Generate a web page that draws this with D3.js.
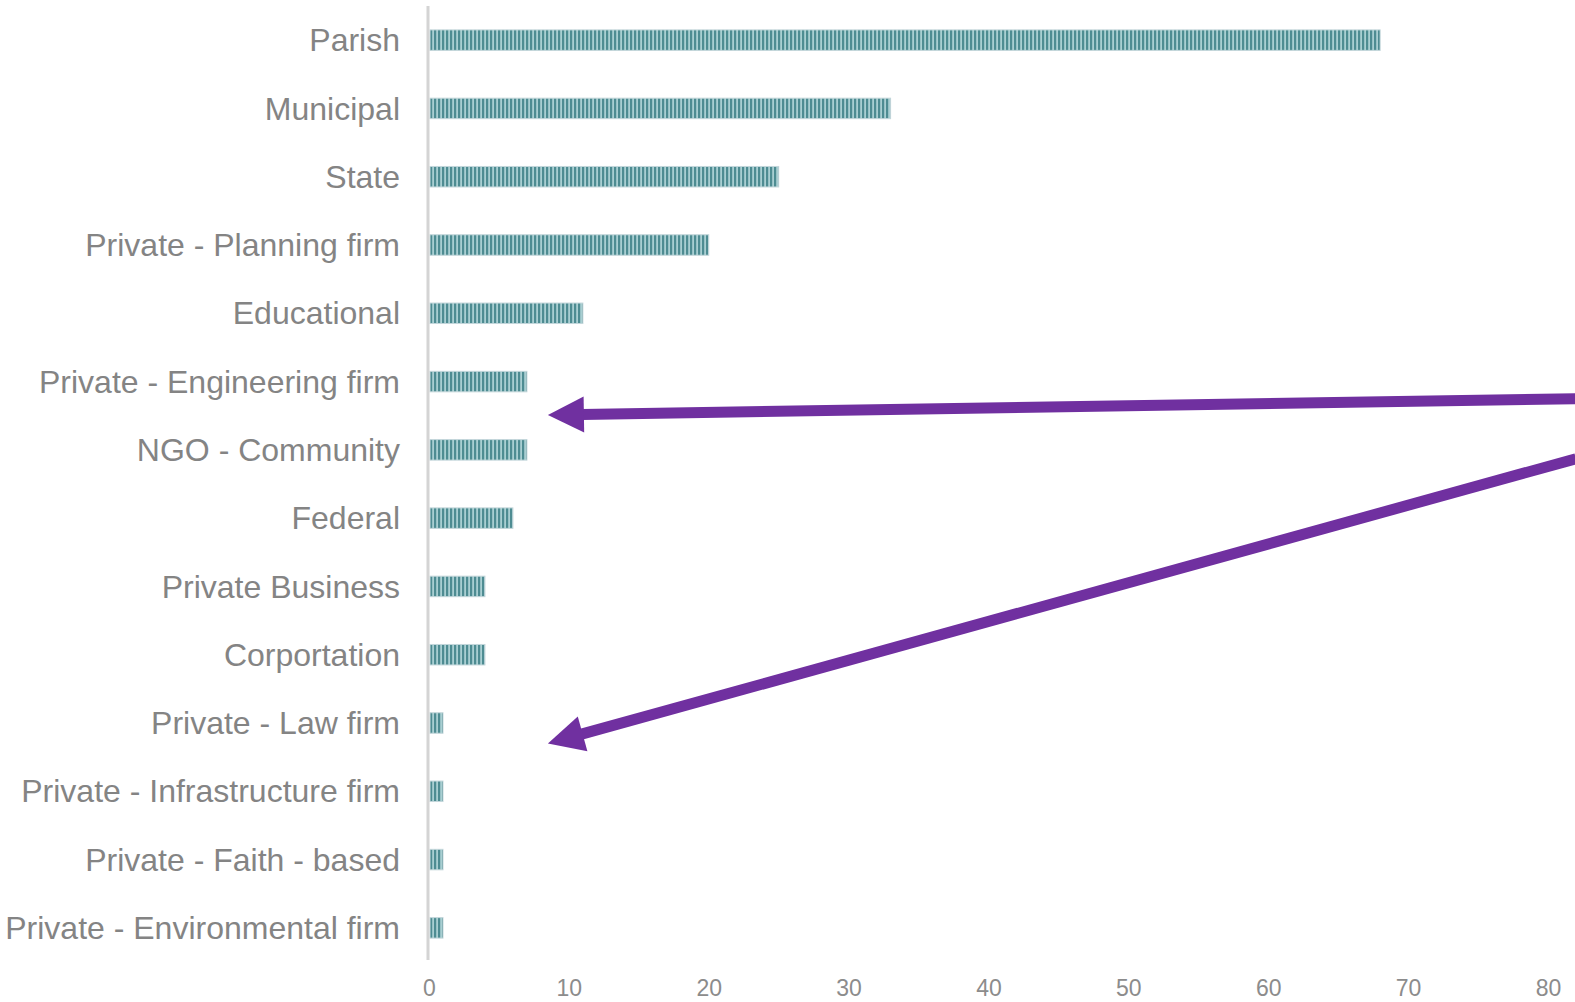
<!DOCTYPE html>
<html>
<head>
<meta charset="utf-8">
<script src="https://cdn.jsdelivr.net/npm/d3@7"></script>
<style>
  body { margin: 0; background: #fff; }
  svg { display: block; font-family: "Liberation Sans", Arial, sans-serif; }
</style>
</head>
<body>
<svg id="chart"></svg>
<script>
// data
const categories = [
  'Parish', 'Municipal', 'State', 'Private - Planning firm', 'Educational',
  'Private - Engineering firm', 'NGO - Community', 'Federal', 'Private Business',
  'Corportation', 'Private - Law firm', 'Private - Infrastructure firm',
  'Private - Faith - based', 'Private - Environmental firm'
];
const counts = [68, 33, 25, 20, 11, 7, 7, 6, 4, 4, 1, 1, 1, 1];
const xTicks = [0, 10, 20, 30, 40, 50, 60, 70, 80];

// arrows: [from value, from row, to value, to row] (row = category index, fractional)
const arrows = [
  [82, 5.25, 8.5, 5.49],
  [82, 6.13, 8.5, 10.3]
];

const W = 1575, H = 1002;
const margin = {top: 6, right: 27, bottom: 40, left: 429};

const svg = d3.select('#chart').attr('width', W).attr('height', H);

const x = d3.scaleLinear().domain([0, 80]).range([margin.left, W - margin.right]);
const y = d3.scaleBand().domain(categories).range([margin.top, H - margin.bottom]).paddingInner(0.7).paddingOuter(0.35);
const rowY = r => margin.top + y.step() * (r + 0.5);

// striped fill
const defs = svg.append('defs');
const pat = defs.append('pattern')
  .attr('id', 'stripes')
  .attr('patternUnits', 'userSpaceOnUse')
  .attr('x', margin.left + 1)
  .attr('width', 4).attr('height', 10);
pat.append('rect').attr('width', 4).attr('height', 10).attr('fill', '#a9cfd2');
pat.append('rect').attr('width', 2.2).attr('height', 10).attr('fill', '#4e8c92');

// bars
svg.append('g').selectAll('rect')
  .data(counts)
  .join('rect')
    .attr('x', x(0) + 1)
    .attr('y', (d, i) => y(categories[i]))
    .attr('width', d => x(d) - x(0) - 1)
    .attr('height', y.bandwidth())
    .attr('fill', 'url(#stripes)')
    .attr('stroke', '#c3d6da')
    .attr('stroke-width', 1);

// vertical axis line
svg.append('line')
  .attr('x1', x(0) - 1).attr('x2', x(0) - 1)
  .attr('y1', margin.top).attr('y2', H - margin.bottom - 2)
  .attr('stroke', '#d4d4d4').attr('stroke-width', 3);

// category labels
svg.append('g').selectAll('text')
  .data(categories)
  .join('text')
    .attr('x', 400)
    .attr('y', d => y(d) + y.bandwidth() / 2)
    .attr('dy', '0.35em')
    .attr('text-anchor', 'end')
    .attr('font-size', 32)
    .attr('fill', '#848484')
    .text(d => d);

// x tick labels (kept fully inside the bottom edge)
const xAxis = d3.axisBottom(x).tickValues(xTicks).tickSize(0).tickPadding(0);
const gx = svg.append('g').attr('transform', `translate(0, ${H - 22})`).call(xAxis);
gx.select('.domain').remove();
gx.selectAll('text')
  .attr('font-size', 23)
  .attr('font-family', '"Liberation Sans", Arial, sans-serif')
  .attr('fill', '#8c8c8c');

// purple arrows
const arrowColor = '#7030a0';
arrows.forEach(([v0, r0, v1, r1]) => {
  const x0 = x(v0), y0 = rowY(r0), x1 = x(v1), y1 = rowY(r1);
  const ang = Math.atan2(y1 - y0, x1 - x0);
  const headLen = 36, headHalf = 18, lineW = 11;
  const bx = x1 - headLen * Math.cos(ang), by = y1 - headLen * Math.sin(ang);
  svg.append('line')
    .attr('x1', x0).attr('y1', y0).attr('x2', bx + 2 * Math.cos(ang)).attr('y2', by + 2 * Math.sin(ang))
    .attr('stroke', arrowColor).attr('stroke-width', lineW);
  const px = -Math.sin(ang), py = Math.cos(ang);
  svg.append('path')
    .attr('d', d3.line()([
      [x1, y1],
      [bx + px * headHalf, by + py * headHalf],
      [bx - px * headHalf, by - py * headHalf]
    ]) + 'Z')
    .attr('fill', arrowColor);
});
</script>
</body>
</html>
